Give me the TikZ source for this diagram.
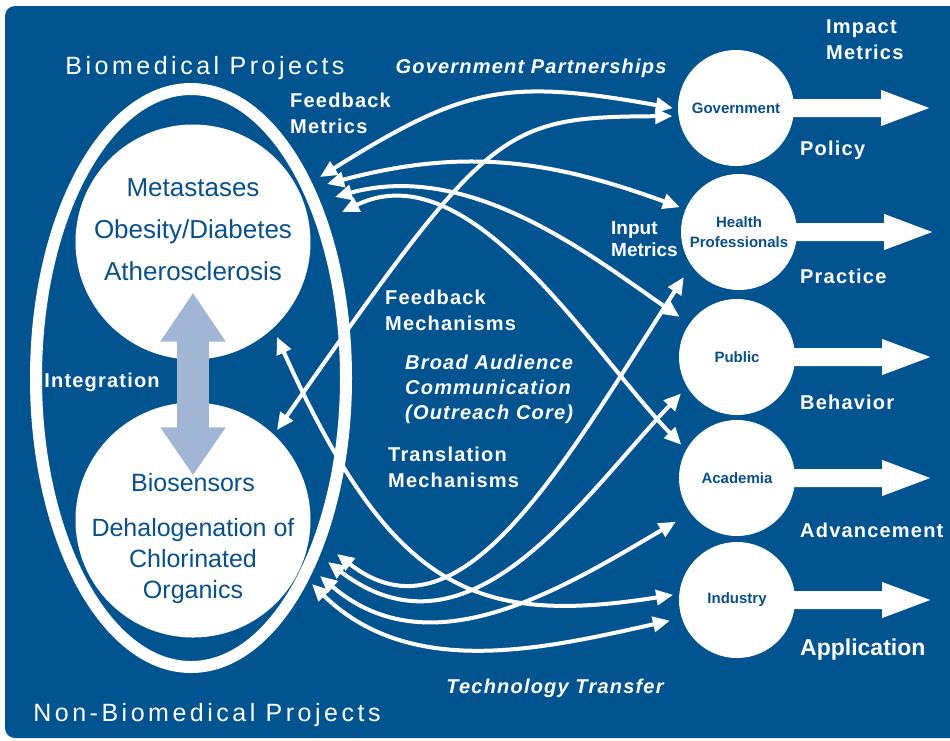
\documentclass[tikz,border=0pt]{standalone}
\usepackage{fontspec}
\setmainfont{Liberation Sans}
\newfontfamily\trackfont[LetterSpace=6]{Liberation Sans}
\newfontfamily\widefont[LetterSpace=14]{Liberation Sans}
\usepackage{tikz}
\usetikzlibrary{arrows.meta}
\definecolor{panel}{RGB}{2,84,144}
\definecolor{inkblue}{RGB}{8,80,140}
\definecolor{steel}{RGB}{161,181,213}
\tikzset{
  topic/.style={circle,fill=white,minimum size=235pt,inner sep=0pt},
  topictext/.style={text=inkblue,align=center,inner sep=0pt},
  sector/.style={circle,fill=white,minimum size=116pt,inner sep=0pt,text=inkblue,align=center,font=\bfseries\fontsize{15}{20}\selectfont},
  lbl/.style={text=white,align=left,inner sep=0pt,font=\trackfont\bfseries\fontsize{20}{26}\selectfont},
  ilbl/.style={lbl,font=\trackfont\bfseries\itshape\fontsize{20}{25}\selectfont},
  heading/.style={text=white,inner sep=0pt,font=\widefont\fontsize{25}{30}\selectfont},
  flow/.style={white,line width=4pt,{Triangle[length=17pt,width=15pt]}-{Triangle[length=17pt,width=15pt]}},
}
\begin{document}
\begin{tikzpicture}[x=1pt,y=-1pt]
\useasboundingbox (0,0) rectangle (950,740);
\fill[panel,rounded corners=10pt] (5,6) rectangle (965,738);
\draw[white,line width=12pt] (191,378) ellipse [x radius=155, y radius=289];

\node[topic] (biomed) at (193,242) {};
\node[topic] (nonbiomed) at (193,520) {};
\draw[steel,line width=32pt,{Triangle[length=49pt,width=62pt]}-{Triangle[length=48pt,width=62pt]},shorten <=-67pt,shorten >=-73pt] (biomed.south) -- (nonbiomed.north);
\node[topictext,font=\fontsize{26}{42}\selectfont] (biotext) at (193,230) {Metastases\\Obesity/Diabetes\\Atherosclerosis};
\node[topictext,font=\fontsize{25}{31}\selectfont] (nonbiotext) at (193,539) {Biosensors\\[14pt]Dehalogenation of\\Chlorinated\\Organics};

\node[sector] (gov) at (736,108) {Government};
\node[sector] (health) at (739,232) {Health\\Professionals};
\node[sector] (public) at (737,357) {Public};
\node[sector] (academia) at (737,478) {Academia};
\node[sector] (industry) at (737,600) {Industry};
\foreach \s in {gov,health,public,academia,industry}
  \fill[white] (\s.east) ++(-3,-9) -- ++(90,0) -- ++(0,-9) -- ++(48,18) -- ++(-48,18) -- ++(0,-9) -- ++(-90,0) -- cycle;

\node[heading] (bmtitle) at (205,68) {Biomedical Projects};
\node[heading] (nbtitle) at (207,715) {Non-Biomedical Projects};
\node[ilbl] (govpart) at (531,68) {Government Partnerships};
\node[lbl,anchor=west] (fbmetrics) at (290,113) {Feedback\\Metrics};
\node[lbl,anchor=west] (impact) at (826,40) {Impact\\Metrics};
\node[lbl,anchor=west] (policy) at (800,150) {Policy};
\node[lbl,anchor=west] (practice) at (800,276) {Practice};
\node[lbl,anchor=west] (behavior) at (800,402) {Behavior};
\node[lbl,anchor=west] (advance) at (800,530) {Advancement};
\node[lbl,anchor=west,font=\bfseries\fontsize{23}{28}\selectfont] (application) at (800,650) {Application};
\node[lbl,anchor=west,font=\bfseries\fontsize{19}{22}\selectfont] (inmetrics) at (611,239) {Input\\Metrics};
\node[lbl,anchor=west] (fbmech) at (385,310) {Feedback\\Mechanisms};
\node[ilbl,anchor=west] (outreach) at (405,389) {Broad Audience\\Communication\\(Outreach Core)};
\node[lbl,anchor=west] (transl) at (388,467) {Translation\\Mechanisms};
\node[ilbl] (techtrans) at (555,688) {Technology Transfer};
\node[lbl] (integration) at (102,382) {Integration};

\coordinate (bm1) at (320,177);
\coordinate (bm2) at (327,184);
\coordinate (bm3) at (335,197);
\coordinate (bm4) at (342,212);
\coordinate (bm5) at (277,337);
\coordinate (nb1) at (277,430);
\coordinate (nb2) at (337,554);
\coordinate (nb3) at (328,562);
\coordinate (nb4) at (320,576);
\coordinate (nb5) at (312,584);

\draw[flow,shorten >=5pt] (bm1) .. controls (464,87) and (506,78) .. (gov.181);
\draw[flow,shorten >=6pt] (nb1) .. controls (490,126) and (500,117) .. (gov.188);
\draw[flow,shorten >=6pt] (bm2) .. controls (462,148) and (548,159) .. (health.157);
\draw[flow,shorten >=14pt] (nb2) .. controls (460,650) and (560,470) .. (health.215);
\draw[flow,shorten >=12pt] (bm3) .. controls (470,160) and (590,255) .. (public.145);
\draw[flow,shorten >=9pt] (nb3) .. controls (470,670) and (580,500) .. (public.211);
\draw[flow,shorten >=7pt] (bm4) .. controls (470,150) and (590,350) .. (academia.151);
\draw[flow,shorten >=17pt] (nb4) .. controls (430,670) and (560,590) .. (academia.217);
\draw[flow,shorten >=6pt] (bm5) .. controls (392,592) and (476,626) .. (industry.174);
\draw[flow,shorten >=12pt] (nb5) .. controls (410,680) and (543,649) .. (industry.198);
\end{tikzpicture}
\end{document}
